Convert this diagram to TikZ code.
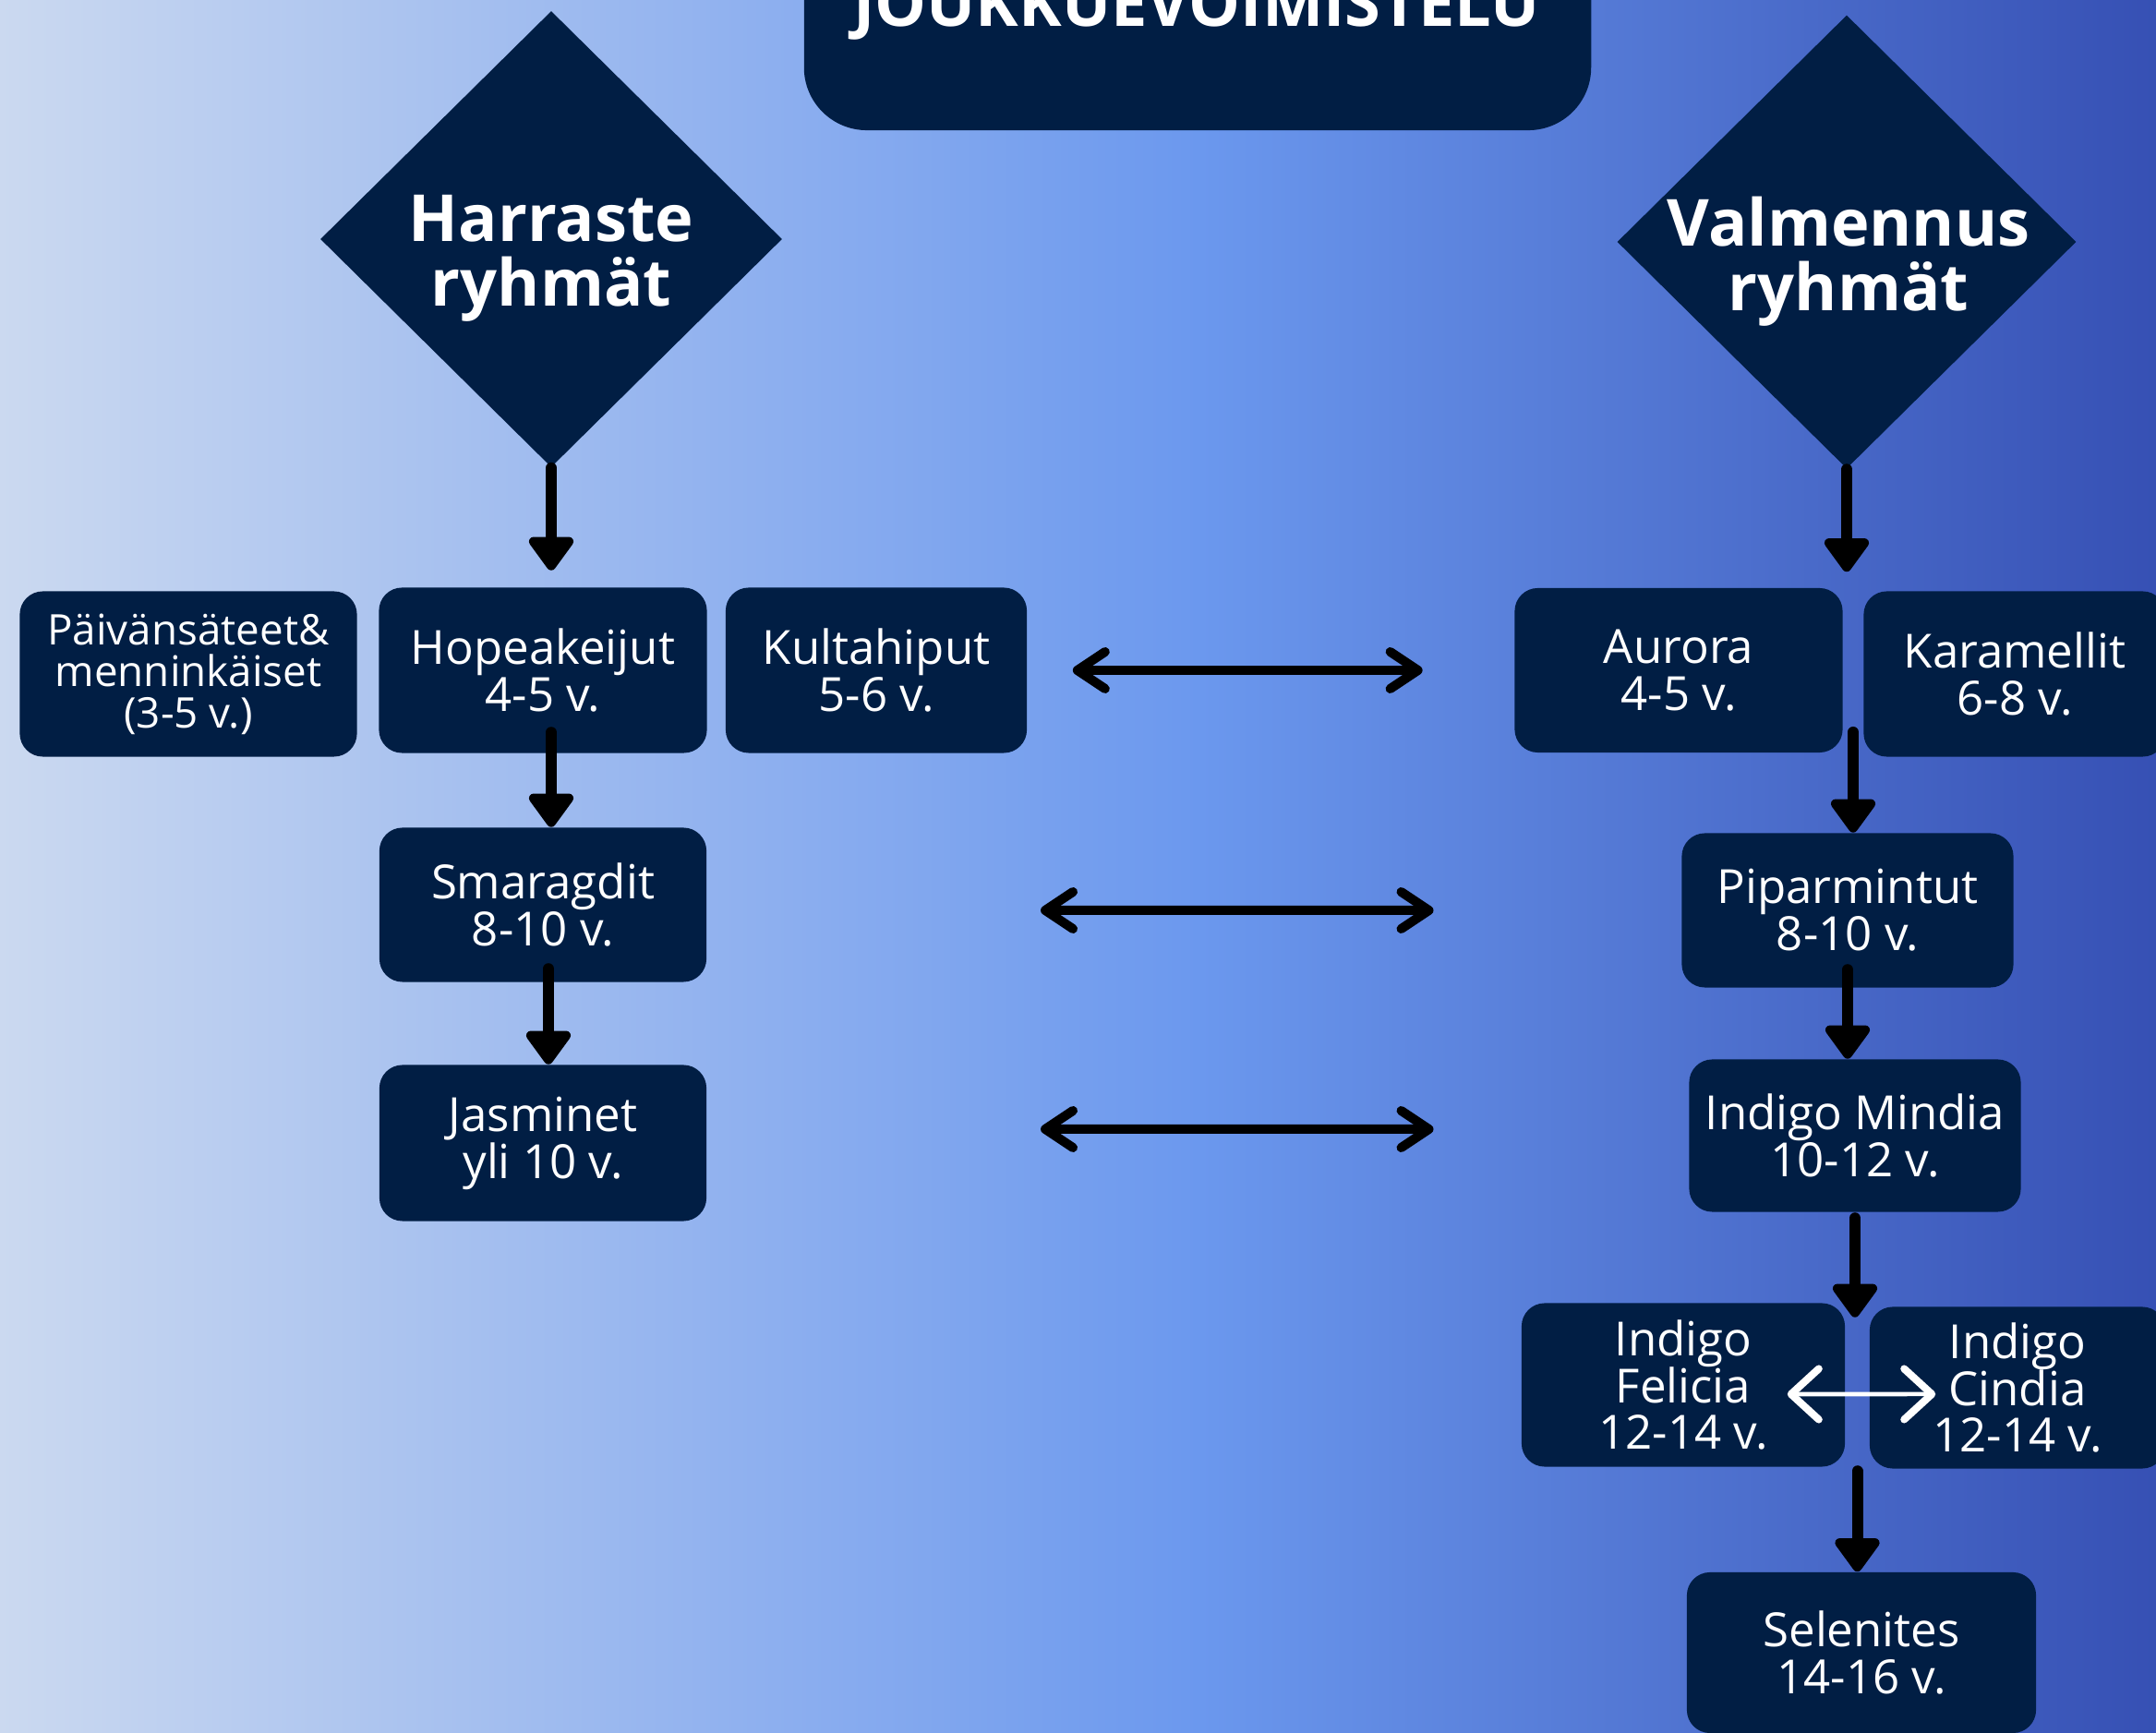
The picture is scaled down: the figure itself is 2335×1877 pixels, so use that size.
\documentclass[tikz,border=0pt]{standalone}
\usepackage{fontspec}
\setmainfont{Open Sans}
\usetikzlibrary{shapes.geometric,arrows.meta,calc}
\definecolor{navy}{RGB}{1,30,68}
\definecolor{bgA}{RGB}{203,217,240}
\definecolor{bgB}{RGB}{107,152,238}
\definecolor{bgC}{RGB}{54,80,180}
\pgfdeclarehorizontalshading{bgshade}{100bp}{color(0bp)=(bgA); color(25bp)=(bgA); color(52.8bp)=(bgB); color(75bp)=(bgC); color(100bp)=(bgC)}
\tikzset{
  grp/.style={fill=navy, rounded corners=0.25cm, text=white, align=center, inner sep=0pt, font=\fontsize{14.5}{14.5}\selectfont},
  rhomb/.style={diamond, fill=navy, inner sep=0pt},
  headtxt/.style={text=white, align=center, inner sep=0pt, font=\bfseries\fontsize{20}{19.9}\selectfont},
  down/.style={line width=0.12cm, line cap=round, -{Triangle[length=0.4cm,width=0.55cm,round]}},
  duo/.style={line width=0.1cm, line cap=round, {Straight Barb[length=0.3cm,width=0.4cm,round]}-{Straight Barb[length=0.3cm,width=0.4cm,round]}},
  duow/.style={white, line width=0.045cm, {Straight Barb[length=0.3cm,width=0.55cm,line width=0.08cm,round]}-{Straight Barb[length=0.3cm,width=0.55cm,line width=0.08cm,round]}}
}
\begin{document}
\begin{tikzpicture}[x=0.01cm, y=-0.01cm]
\useasboundingbox (0,0) rectangle (2335,1877);
\clip (0,0) rectangle (2335,1877);
\shade[shading=bgshade] (0,0) rectangle (2335,1877);

\node[fill=navy, rounded corners=0.68cm, minimum width=8.52cm, minimum height=2.4cm, inner sep=0pt] (title) at (1297,21) {};
\node[headtxt] (titletxt) at (1296,10) {JOUKKUEVOIMISTELU};

\node[rhomb, minimum width=5cm, minimum height=4.94cm] (harr) at (597,259) {};
\node[headtxt] (harrtxt) at (597,280) {Harraste\\ryhmät};
\node[rhomb, minimum width=4.97cm, minimum height=4.91cm] (valm) at (2000,262) {};
\node[headtxt] (valmtxt) at (2002,283) {Valmennus\\ryhmät};

\node[grp, minimum width=3.65cm, minimum height=1.79cm, font=\fontsize{13}{12.8}\selectfont] (paiva) at (204,730) {Päivänsäteet\&\\menninkäiset\\(3-5 v.)};
\node[grp, minimum width=3.55cm, minimum height=1.79cm] (hopea) at (588,726) {Hopeakeijut\\4-5 v.};
\node[grp, minimum width=3.26cm, minimum height=1.79cm] (kulta) at (949,726) {Kultahiput\\5-6 v.};
\node[grp, minimum width=3.54cm, minimum height=1.67cm] (smaragd) at (588,980) {Smaragdit\\8-10 v.};
\node[grp, minimum width=3.54cm, minimum height=1.69cm] (jasmin) at (588,1238) {Jasminet\\yli 10 v.};
\node[grp, minimum width=3.55cm, minimum height=1.78cm] (aurora) at (1818,726) {Aurora\\4-5 v.};
\node[grp, minimum width=3.27cm, minimum height=1.79cm] (karam) at (2182,730) {Karamellit\\6-8 v.};
\node[grp, minimum width=3.59cm, minimum height=1.67cm] (pipar) at (2001,986) {Piparmintut\\8-10 v.};
\node[grp, minimum width=3.59cm, minimum height=1.65cm] (mindia) at (2009,1230) {Indigo Mindia\\10-12 v.};
\node[grp, minimum width=3.5cm, minimum height=1.77cm] (felicia) at (1823,1500) {Indigo\\Felicia\\12-14 v.};
\node[grp, minimum width=3.2cm, minimum height=1.75cm] (cindia) at (2185,1503) {Indigo\\Cindia\\12-14 v.};
\node[grp, minimum width=3.78cm, minimum height=1.74cm] (selen) at (2016,1790) {Selenites\\14-16 v.};

\coordinate (arkm) at ($(aurora.south east)!0.5!(karam.south west)$);
\coordinate (fcm) at ($(felicia.north east)!0.5!(cindia.north west)$);
\coordinate (fcs) at ($(felicia.south east)!0.5!(cindia.south west)$);

\draw[down] (harr.south) -- ([yshift=0.18cm]harr.south |- hopea.north);
\draw[down] (valm.south) -- ([yshift=0.17cm]valm.south |- aurora.north);
\draw[down] ([xshift=0.09cm,yshift=0.23cm]hopea.south) -- ([xshift=0.09cm]smaragd.north);
\draw[down] ([xshift=0.06cm,yshift=0.15cm]smaragd.south) -- ([xshift=0.06cm]jasmin.north);
\draw[down] ([yshift=0.25cm]arkm) -- (arkm |- pipar.north);
\draw[down] ([yshift=0.2cm]pipar.south) -- (pipar.south |- mindia.north);
\draw[down] ([yshift=-0.06cm]mindia.south) -- ([yshift=-0.14cm]mindia.south |- fcm);
\draw[down] ([yshift=-0.03cm]fcs) -- (fcs |- selen.north);

\draw[duo] ([xshift=0.49cm]kulta.east) -- ([xshift=-0.99cm]aurora.west);
\draw[duo] ([xshift=3.61cm,yshift=-0.06cm]smaragd.east) -- ([xshift=-2.68cm]pipar.west);
\draw[duo] ([xshift=3.61cm,yshift=0.15cm]jasmin.east) -- ([xshift=-2.76cm,yshift=0.07cm]mindia.west);
\draw[duow] ([xshift=-0.63cm,yshift=-0.1cm]felicia.east) -- ([xshift=0.72cm,yshift=-0.07cm]cindia.west);
\end{tikzpicture}
\end{document}
